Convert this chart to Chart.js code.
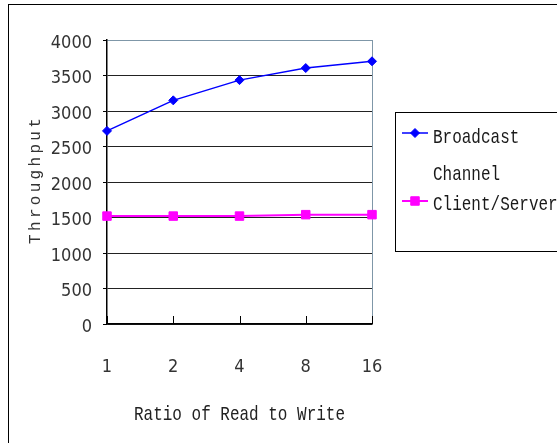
<!DOCTYPE html>
<html>
<head>
<meta charset="utf-8">
<script src="https://cdn.jsdelivr.net/npm/chart.js@4/dist/chart.umd.min.js"></script>
<style>
  html, body { margin: 0; padding: 0; background: #fff; }
  #wrap { width: 557px; height: 443px; position: relative; }
</style>
</head>
<body>
<div id="wrap"><canvas id="c" width="557" height="443"></canvas></div>
<script>
// Throughput versus the read/write ratio
const ratios = ['1', '2', '4', '8', '16'];
const broadcastChannel = [2720, 3150, 3435, 3605, 3700];
const clientServer = [1520, 1520, 1520, 1540, 1540];
const yTicks = [0, 500, 1000, 1500, 2000, 2500, 3000, 3500, 4000];
const seriesNames = [['Broadcast', 'Channel'], ['Client/Server']];
const xTitle = 'Ratio of Read to Write';
const yTitle = 'Throughput';

const monoFont = '"Liberation Mono", "DejaVu Sans Mono", monospace';
const tickFont = '"DejaVu Sans Condensed", "DejaVu Sans", sans-serif';

// Draws text stretched vertically to get tall narrow glyphs
function tallText(ctx, text, x, y, size, sx, sy, align) {
  ctx.save();
  ctx.translate(x, y);
  ctx.scale(sx, sy);
  ctx.font = size + 'px ' + monoFont;
  ctx.textAlign = align || 'left';
  ctx.textBaseline = 'alphabetic';
  ctx.fillText(text, 0, 0);
  ctx.restore();
}

const decor = {
  id: 'decor',
  beforeDraw(chart) {
    const ctx = chart.ctx;
    ctx.save();
    ctx.fillStyle = '#fff';
    ctx.fillRect(0, 0, chart.width, chart.height);
    // outer frame
    ctx.strokeStyle = '#000';
    ctx.lineWidth = 1;
    ctx.strokeRect(8.5, 4.5, 700, 600);
    ctx.restore();
  },
  beforeDatasetsDraw(chart) {
    const ctx = chart.ctx;
    const a = chart.chartArea;
    const xs = chart.scales.x;
    ctx.save();
    // right border of the plot area
    ctx.strokeStyle = '#7f97a8';
    ctx.lineWidth = 1;
    ctx.beginPath();
    ctx.moveTo(Math.round(a.right) + 0.5, a.top);
    ctx.lineTo(Math.round(a.right) + 0.5, a.bottom);
    ctx.stroke();
    // inward category ticks on the x axis
    ctx.strokeStyle = '#000';
    ctx.beginPath();
    for (let i = 0; i < ratios.length; i++) {
      const px = Math.round(xs.getPixelForTick(i)) + 0.5;
      ctx.moveTo(px, a.bottom);
      ctx.lineTo(px, a.bottom - 8);
    }
    ctx.stroke();
    ctx.restore();
  },
  afterDraw(chart) {
    const ctx = chart.ctx;
    const a = chart.chartArea;
    ctx.save();
    ctx.fillStyle = '#222';
    // x axis title
    tallText(ctx, xTitle, (a.left + a.right) / 2, 420, 17, 0.94, 1.15, 'center');
    // y axis title
    ctx.save();
    ctx.translate(40, (a.top + a.bottom) / 2 - 1);
    ctx.rotate(-Math.PI / 2);
    ctx.font = '16px ' + monoFont;
    ctx.letterSpacing = '3.3px';
    ctx.textAlign = 'center';
    ctx.textBaseline = 'alphabetic';
    ctx.fillStyle = '#333';
    ctx.fillText(yTitle, 1.6, 0);
    ctx.restore();

    // legend box
    ctx.strokeStyle = '#000';
    ctx.lineWidth = 1;
    ctx.strokeRect(395.5, 112.5, 300, 139);
    const rows = [
      { lineY: 133, base: [143, 180] },
      { lineY: 201, base: [210] }
    ];
    chart.data.datasets.forEach((ds, i) => {
      const r = rows[i];
      ctx.strokeStyle = ds.borderColor;
      ctx.fillStyle = ds.backgroundColor;
      ctx.lineWidth = ds.borderWidth;
      ctx.beginPath();
      ctx.moveTo(402, r.lineY);
      ctx.lineTo(428, r.lineY);
      ctx.stroke();
      ctx.lineWidth = 1;
      Chart.helpers.drawPoint(ctx, {
        pointStyle: ds.pointStyle,
        radius: ds.pointRadius,
        borderWidth: 1
      }, 415, r.lineY);
      ctx.fillStyle = '#1a1a1a';
      seriesNames[i].forEach((t, k) => tallText(ctx, t, 433, r.base[k], 17, 0.94, 1.15));
    });
    ctx.restore();
  }
};

const chart = new Chart(document.getElementById('c'), {
  type: 'line',
  data: {
    labels: ratios,
    datasets: [
      {
        label: 'Broadcast Channel',
        data: broadcastChannel,
        borderColor: '#0000ff',
        backgroundColor: '#0000ff',
        borderWidth: 1.5,
        pointStyle: 'rectRot',
        pointRadius: 4.5,
        pointBorderWidth: 1,
        tension: 0
      },
      {
        label: 'Client/Server',
        data: clientServer,
        borderColor: '#ff00ff',
        backgroundColor: '#ff00ff',
        borderWidth: 2,
        pointStyle: 'rect',
        pointRadius: 6,
        pointBorderWidth: 1,
        tension: 0
      }
    ]
  },
  options: {
    responsive: false,
    animation: false,
    devicePixelRatio: 1,
    layout: { padding: { top: 40, right: 185, left: 0, bottom: 0 } },
    plugins: { legend: { display: false }, tooltip: { enabled: false } },
    scales: {
      x: {
        offset: false,
        grid: { drawOnChartArea: false, drawTicks: false },
        border: { display: true, color: '#000', width: 1.5 },
        ticks: { color: '#333', font: { family: tickFont, size: 18 }, padding: 33, maxRotation: 0 },
        afterFit(s) { s.height = 119; }
      },
      y: {
        min: 0,
        max: 4000,
        afterBuildTicks(s) { s.ticks = yTicks.map(v => ({ value: v })); },
        grid: {
          color: ctx => (ctx.tick && ctx.tick.value === 4000 ? '#7f97a8' : '#222'),
          tickColor: '#000',
          tickLength: 4,
          lineWidth: 1
        },
        border: { display: true, color: '#000', width: 1.5 },
        ticks: {
          color: '#333',
          font: { family: tickFont, size: 18 },
          padding: 11,
          labelOffset: 3,
          callback: v => String(v)
        },
        afterFit(s) { s.width = 107; }
      }
    }
  },
  plugins: [decor]
});
</script>
</body>
</html>
